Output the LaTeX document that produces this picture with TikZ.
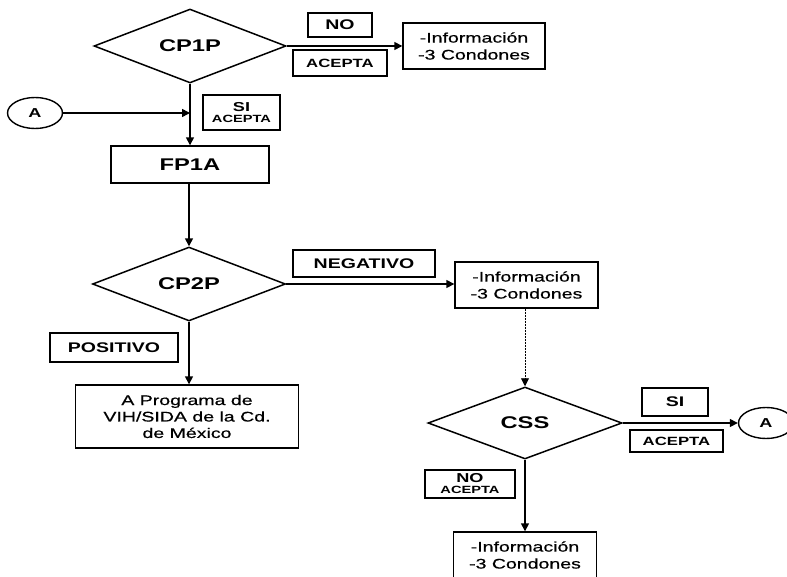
\documentclass[tikz,border=0pt]{standalone}
\usepackage{fontspec}
\setmainfont{Liberation Sans}[FakeStretch=1.4]
\newfontfamily\bodyfont{Liberation Sans}[FakeStretch=1.4,FakeBold=0.6]
\usetikzlibrary{shapes.geometric,arrows.meta}
\begin{document}
\begin{tikzpicture}[
  x=1bp, y=-1bp,
  decision/.style={diamond, draw, line width=1.5bp, inner sep=0pt, font=\bfseries\fontsize{17}{20}\selectfont},
  process/.style={rectangle, draw, line width=1.4bp, inner sep=1pt, align=center, font=\bodyfont\fontsize{14}{17}\selectfont},
  tag/.style={rectangle, draw, line width=1.4bp, inner sep=1pt, align=center, font=\bfseries\fontsize{14}{16}\selectfont},
  small/.style={font=\bfseries\fontsize{12}{13}\selectfont},
  conn/.style={ellipse, draw, line width=1.4bp, inner sep=0pt, minimum width=55bp, minimum height=31bp, font=\bfseries\fontsize{13}{15}\selectfont},
  flow/.style={line width=1.5bp, ->},
  >={Triangle[length=8bp,width=8bp]}
]
  \useasboundingbox (0,0) rectangle (787,577);
  % First decision
  \node[decision, minimum width=192bp, minimum height=72bp] (cp1p) at (190,46) {CP1P};
  \node[tag, minimum width=64bp, minimum height=24bp] (no1) at (340,25) {NO};
  \node[tag, small, minimum width=94bp, minimum height=26bp] (acep1) at (340,63) {ACEPTA};
  \node[process, minimum width=142bp, minimum height=46bp] (info1) at (474,46) {-Información\\-3 Condones};
  \node[conn] (a1) at (35,113) {A};
  \node[tag, minimum width=77bp, minimum height=35bp, font=\bfseries\fontsize{13}{13}\selectfont] (si1) at (241.5,112.5) {SI\\[-2pt]{\fontsize{10.5}{12}\selectfont ACEPTA}};
  \node[tag, minimum width=158bp, minimum height=37bp, font=\bfseries\fontsize{17}{20}\selectfont] (fp1a) at (190,164.5) {FP1A};
  \coordinate (j1) at (cp1p.south |- a1);
  % Second decision
  \node[decision, minimum width=193bp, minimum height=72bp] (cp2p) at (189,284) {CP2P};
  \node[tag, minimum width=142bp, minimum height=27bp] (neg) at (364,263.5) {NEGATIVO};
  \node[process, minimum width=143bp, minimum height=46bp] (info2) at (526.5,285) {-Información\\-3 Condones};
  \node[tag, minimum width=128bp, minimum height=29bp] (pos) at (114,347.5) {POSITIVO};
  \node[process, minimum width=223bp, minimum height=63bp, font=\bodyfont\fontsize{14}{16.5}\selectfont] (prog) at (187,416.5) {A Programa de\\VIH/SIDA de la Cd.\\de México};
  % Third decision
  \node[decision, minimum width=194bp, minimum height=72bp] (css) at (525,423) {CSS};
  \node[tag, minimum width=66bp, minimum height=28bp] (si2) at (675,402) {SI};
  \node[tag, small, minimum width=93bp, minimum height=22bp] (acep2) at (676.5,441) {ACEPTA};
  \node[conn] (a2) at (766,423) {A};
  \node[tag, minimum width=90bp, minimum height=28bp, font=\bfseries\fontsize{13}{13}\selectfont] (noac) at (470,484) {NO\\[-2pt]{\fontsize{10.5}{12}\selectfont ACEPTA}};
  \node[process, minimum width=143bp, minimum height=46bp] (info3) at (525,555) {-Información\\-3 Condones};
  % Connectors
  \draw[flow] (cp1p.east) -- (info1.west |- cp1p.east);
  \draw[flow] (a1) -- (j1);
  \draw[flow] (cp1p.south) -- (fp1a.north -| cp1p.south);
  \draw[flow] (fp1a.south -| cp2p.north) -- (cp2p.north);
  \draw[flow] (cp2p.east) -- (info2.west |- cp2p.east);
  \draw[flow] (cp2p.south) -- (prog.north -| cp2p.south);
  \draw[flow, line width=0.8bp, dash pattern=on 2bp off 1bp] (info2.south -| css.north) -- (css.north);
  \draw[flow] (css.east) -- (a2.west);
  \draw[flow] (css.south) -- (info3.north -| css.south);
\end{tikzpicture}
\end{document}
